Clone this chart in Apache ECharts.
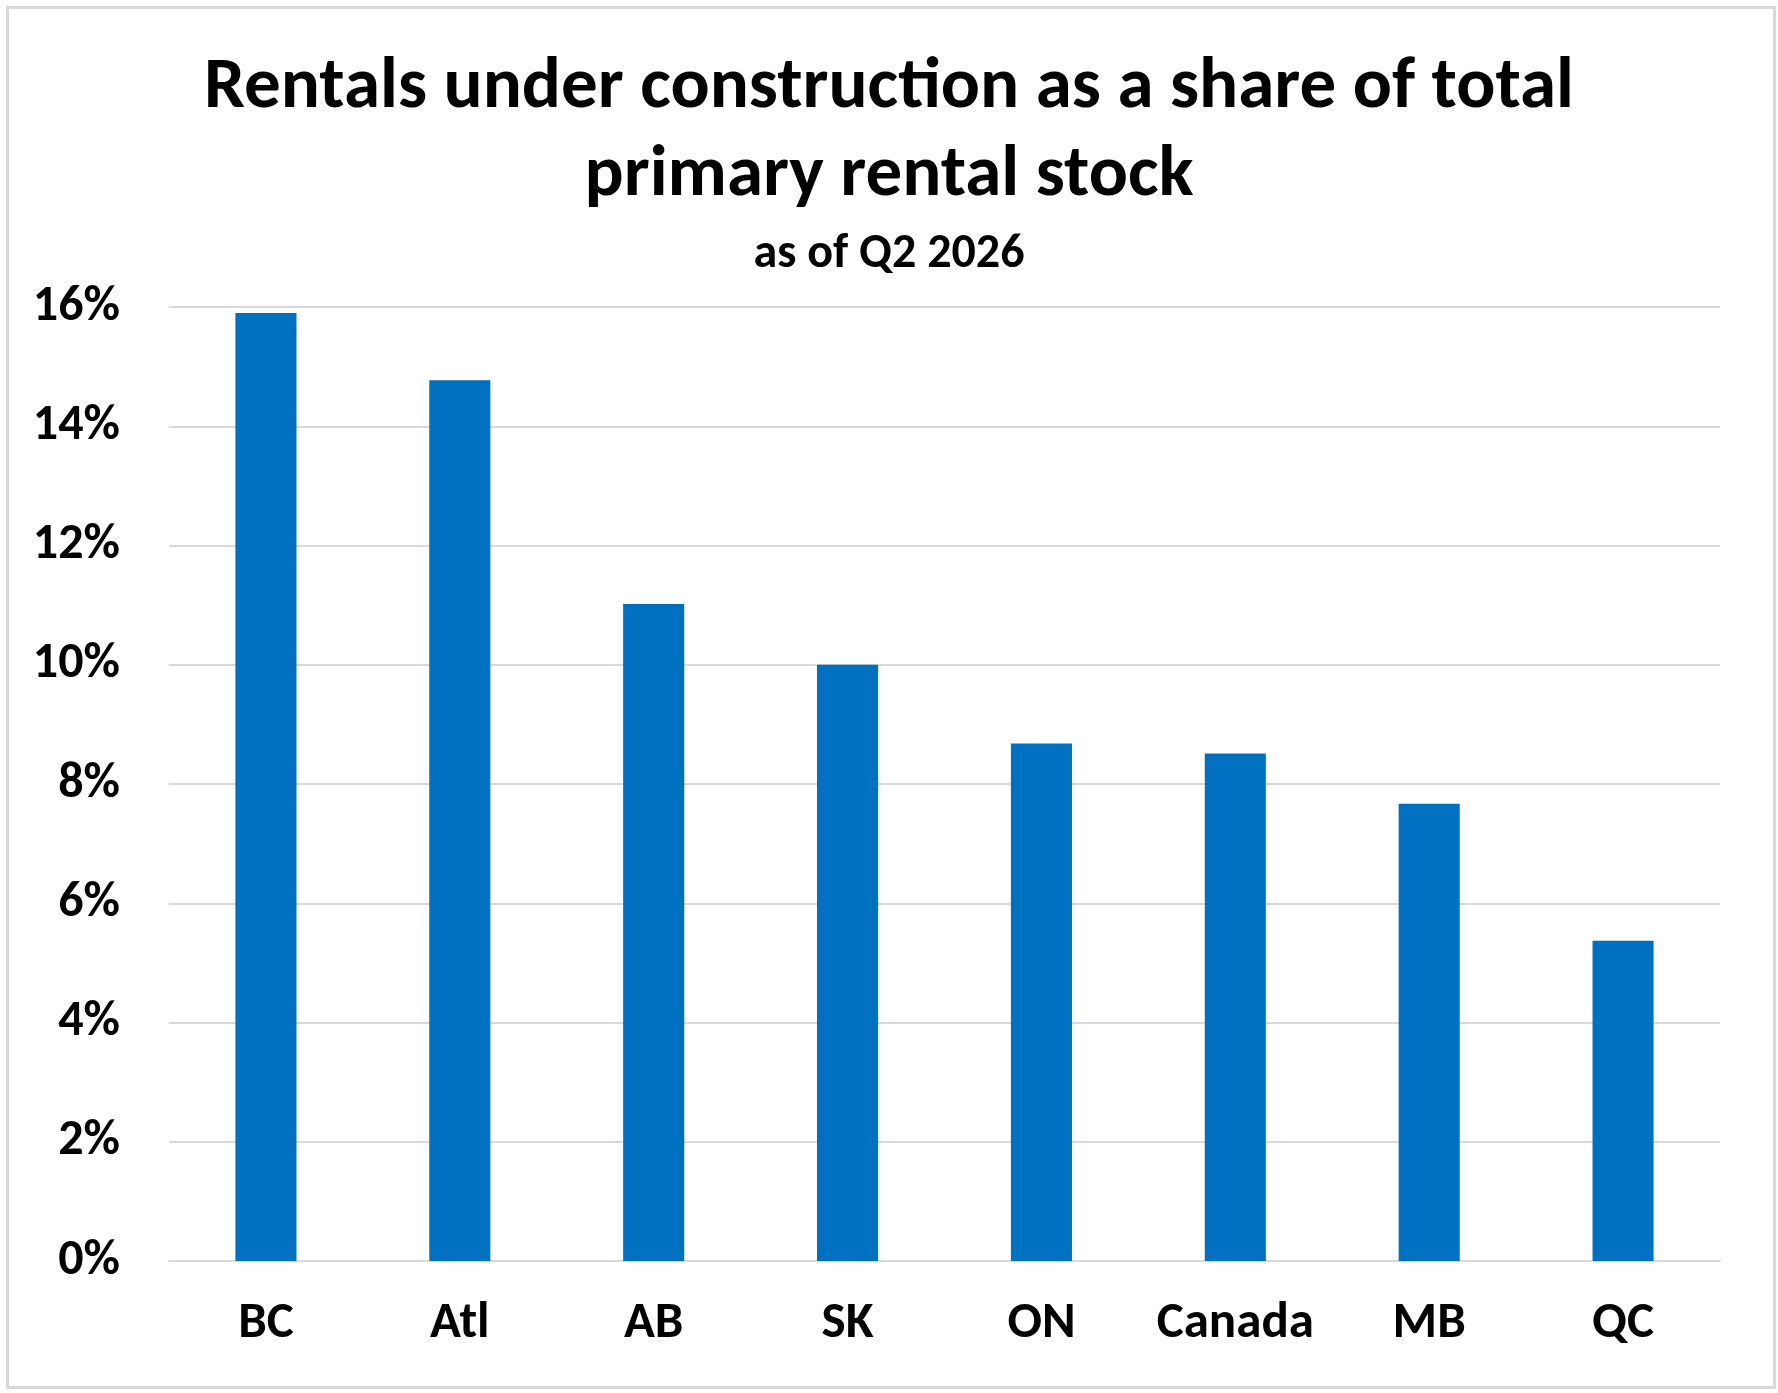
<!DOCTYPE html>
<html lang="en">
<head>
    <meta charset="utf-8">
    <title>Rentals under construction</title>
    <style>
        html, body { margin: 0; padding: 0; background: #fff; }
        #chart { width: 1778px; height: 1393px; }
    </style>
</head>
<body>
<div id='chart'></div>
<script src='https://cdn.jsdelivr.net/npm/echarts@6/dist/echarts.min.js'></script>
<script>
var regions = ['BC', 'Atl', 'AB', 'SK', 'ON', 'Canada', 'MB', 'QC'];
var shares = [15.9, 14.77, 11.02, 10.0, 8.68, 8.51, 7.67, 5.37];
var yTicks = { min: 0, max: 16, step: 2 };

var font = 'Carlito, Lato, "Open Sans", sans-serif';
var myChart = echarts.init(document.getElementById('chart'));
myChart.setOption({
    backgroundColor: '#fff',
    animation: false,
    graphic: [{
        type: 'rect',
        left: 5,
        top: 5,
        shape: { width: 1767, height: 1380 },
        style: { fill: 'none', stroke: '#d9d9d9', lineWidth: 3 }
    }],
    title: [{
        text: 'Rentals under construction as a share of total\nprimary rental stock',
        left: 'center',
        top: 40,
        textStyle: {
            fontFamily: font,
            fontWeight: 'bold',
            fontSize: 73,
            lineHeight: 88,
            color: '#000'
        }
    }, {
        text: 'as of Q2 2026',
        left: 'center',
        top: 226,
        textStyle: {
            fontFamily: font,
            fontWeight: 'bold',
            fontSize: 48,
            lineHeight: 48,
            color: '#000'
        }
    }],
    grid: { left: 169, right: 58, top: 307, bottom: 132 },
    xAxis: {
        type: 'category',
        data: regions,
        axisLine: { lineStyle: { color: '#d9d9d9', width: 2 } },
        axisTick: { show: false },
        axisLabel: {
            interval: 0,
            margin: 38,
            fontFamily: font,
            fontWeight: 'bold',
            fontSize: 51,
            color: '#000'
        }
    },
    yAxis: {
        type: 'value',
        min: yTicks.min,
        max: yTicks.max,
        interval: yTicks.step,
        axisLine: { show: false },
        axisTick: { show: false },
        splitLine: { lineStyle: { color: '#d9d9d9', width: 2 } },
        axisLabel: {
            formatter: '{value}%',
            margin: 49,
            fontFamily: font,
            fontWeight: 'bold',
            fontSize: 50,
            color: '#000'
        }
    },
    series: [{
        type: 'bar',
        data: shares,
        barWidth: '31.5%',
        itemStyle: { color: '#0070c0' }
    }]
});
window.onresize = myChart.resize;
</script>
</body>
</html>
